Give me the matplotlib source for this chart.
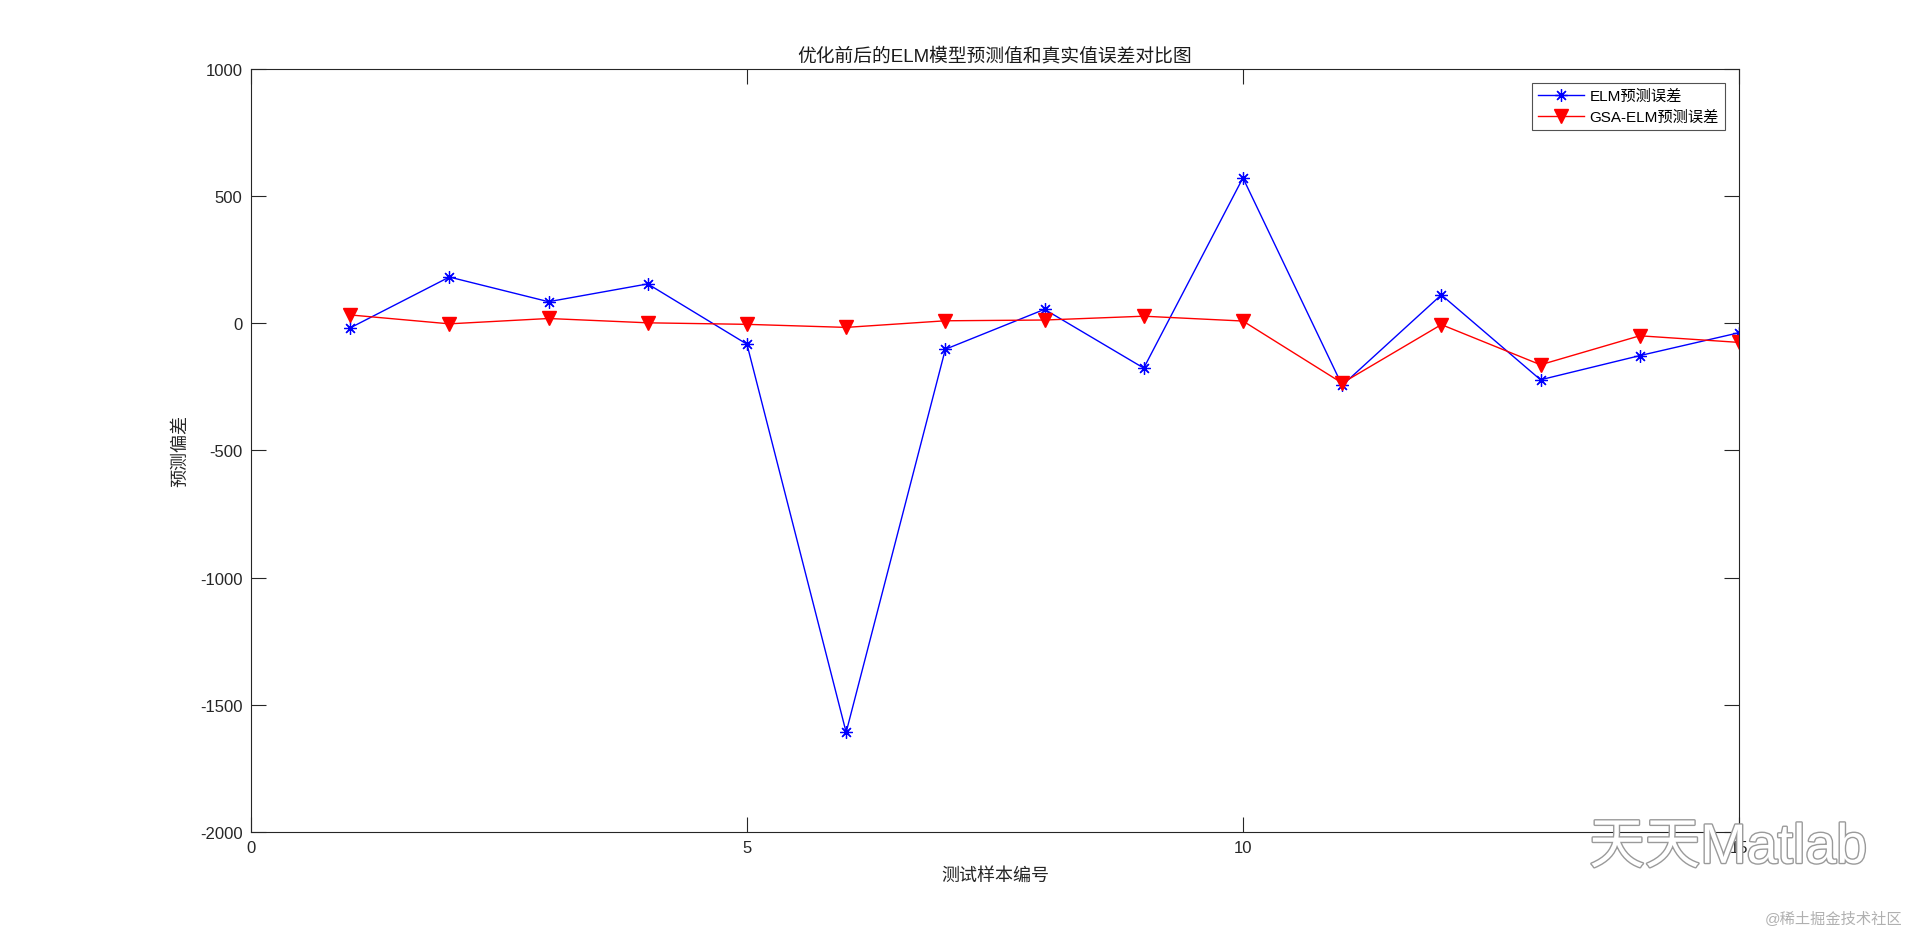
import matplotlib
matplotlib.use("Agg")
import matplotlib.pyplot as plt
import matplotlib.patheffects as pe

plt.rcParams['font.family'] = ['Liberation Sans', 'Noto Sans CJK SC', 'DejaVu Sans']
plt.rcParams['axes.unicode_minus'] = False

# 数据
sample_idx = list(range(1, 16))
elm_err = [-18, 182, 85, 155, -82, -1608, -102, 55, -176, 572, -244, 112, -222, -127, -37]
gsa_err = [33, -2, 19, 2, -4, -16, 10, 13, 28, 9, -235, -5, -163, -49, -75]
xticks = [0, 5, 10, 15]
yticks = [-2000, -1500, -1000, -500, 0, 500, 1000]

fig = plt.figure(figsize=(19.2, 9.37), dpi=100)
ax = fig.add_axes([0.1307, 0.111, 0.775, 0.8143])

ax.plot(sample_idx, elm_err, color='blue', lw=1.0, marker=(8, 2, 0), ms=9,
        mew=0.9, label='ELM预测误差')
ax.plot(sample_idx, gsa_err, color='red', lw=1.0, marker='v', ms=9.5,
        label='GSA-ELM预测误差')

ax.set_xlim(0, 15)
ax.set_ylim(-2000, 1000)
ax.set_xticks(xticks)
ax.set_yticks(yticks)
ax.tick_params(direction='in', length=10.8, width=0.8, top=True, right=True,
               labelsize=12, colors='#262626', pad=6)
for s in ax.spines.values():
    s.set_color('#262626')
    s.set_linewidth(0.8)

ax.set_title('优化前后的ELM模型预测值和真实值误差对比图', fontsize=13.5, color='#1a1a1a', pad=6)
ax.set_xlabel('测试样本编号', fontsize=13, color='#262626', labelpad=8)
ax.set_ylabel('预测偏差', fontsize=13, color='#262626', labelpad=8)

leg = ax.legend(loc='upper right', fontsize=11, frameon=True, fancybox=False,
                edgecolor='#262626', borderaxespad=0.9, handlelength=3.0,
                borderpad=0.4, labelspacing=0.45, handletextpad=0.4)
leg.get_frame().set_linewidth(0.8)

# 水印
fig.text(0.90, 0.093, '天天Matlab', fontsize=40, color='white', ha='center', va='center',
         path_effects=[pe.withStroke(linewidth=2, foreground='#9a9a9a')])
fig.text(0.955, 0.02, '@稀土掘金技术社区', fontsize=11, color='#b0b0b0', ha='center', va='center')

fig.savefig('out.png', dpi=100)
